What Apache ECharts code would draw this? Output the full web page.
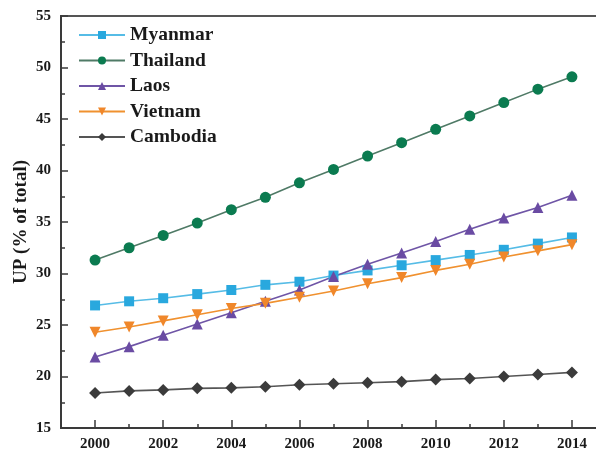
<!DOCTYPE html>
<html>
<head>
<meta charset="utf-8">
<script src="https://cdn.jsdelivr.net/npm/echarts@6/dist/echarts.min.js"></script>
<style>
  html, body { margin: 0; padding: 0; background: #fff; }
  #chart { width: 596px; height: 453px; }
</style>
</head>
<body>
<div id="chart"></div>
<script>
// Urban population share (% of total), 2000-2014
const years = [2000, 2001, 2002, 2003, 2004, 2005, 2006, 2007, 2008, 2009, 2010, 2011, 2012, 2013, 2014];
const myanmar  = [26.9, 27.3, 27.6, 28.0, 28.4, 28.9, 29.2, 29.8, 30.3, 30.8, 31.3, 31.8, 32.3, 32.9, 33.5];
const thailand = [31.3, 32.5, 33.7, 34.9, 36.2, 37.4, 38.8, 40.1, 41.4, 42.7, 44.0, 45.3, 46.6, 47.9, 49.1];
const laos     = [21.9, 22.9, 24.0, 25.1, 26.2, 27.3, 28.4, 29.7, 30.9, 32.0, 33.1, 34.3, 35.4, 36.4, 37.6];
const vietnam  = [24.3, 24.8, 25.4, 26.0, 26.6, 27.1, 27.7, 28.3, 29.0, 29.6, 30.3, 30.9, 31.6, 32.2, 32.8];
const cambodia = [18.4, 18.6, 18.7, 18.85, 18.9, 19.0, 19.2, 19.3, 19.4, 19.5, 19.7, 19.8, 20.0, 20.2, 20.4];

// x axis runs one year beyond the data on each side
const axisYears = [1999].concat(years, [2015]).map(String);

const serif = '"Liberation Serif", "Times New Roman", serif';
const axisColor = '#3a3a3a';

function pairs(vals) {
  return years.map((y, i) => [String(y), vals[i]]);
}

function lineSeries(name, vals, symbol, size, color, lineColor) {
  return {
    name: name,
    type: 'line',
    data: pairs(vals),
    symbol: symbol,
    symbolSize: size,
    itemStyle: { color: color },
    lineStyle: { color: lineColor, width: 1.6 },
    emphasis: { disabled: true },
    animation: false
  };
}

const chart = echarts.init(document.getElementById('chart'), null, { renderer: 'canvas' });

chart.setOption({
  backgroundColor: '#ffffff',
  grid: {
    left: 61, top: 16, right: -10, bottom: 25,
    outerBoundsMode: 'none',
    show: true, borderColor: '#555', borderWidth: 2, backgroundColor: 'transparent'
  },
  legend: {
    orient: 'vertical',
    left: 73, top: 20,
    itemWidth: 46, itemHeight: 10, itemGap: 5.5,
    textStyle: { fontFamily: serif, fontWeight: 'bold', fontSize: 19.5, lineHeight: 20, color: '#1a1a1a' },
    data: ['Myanmar', 'Thailand', 'Laos', 'Vietnam', 'Cambodia']
  },
  xAxis: [
    {
      type: 'category',
      data: axisYears,
      boundaryGap: false,
      axisLine: { lineStyle: { color: axisColor, width: 2 } },
      axisTick: {
        inside: true, length: 8,
        lineStyle: { color: axisColor, width: 1.5 },
        interval: (i, v) => Number(v) % 2 === 0
      },
      axisLabel: {
        interval: (i, v) => Number(v) % 2 === 0 && v !== '1999' && v !== '2015',
        margin: 9,
        fontFamily: serif, fontWeight: 'bold', fontSize: 15, color: '#1a1a1a'
      },
      splitLine: { show: false }
    },
    {
      type: 'category',
      data: axisYears,
      boundaryGap: false,
      position: 'bottom',
      axisLine: { show: false },
      axisTick: {
        inside: true, length: 4,
        lineStyle: { color: axisColor, width: 1.5 },
        interval: (i, v) => Number(v) % 2 === 1
      },
      axisLabel: { show: false },
      splitLine: { show: false }
    }
  ],
  yAxis: {
    type: 'value',
    min: 15, max: 55, interval: 5,
    name: 'UP (% of total)',
    nameLocation: 'middle',
    nameGap: 30,
    nameMoveOverlap: false,
    nameTextStyle: { fontFamily: serif, fontWeight: 'bold', fontSize: 19, color: '#1a1a1a' },
    axisLine: { show: true, lineStyle: { color: axisColor, width: 2 } },
    axisTick: { show: true, inside: true, length: 7, lineStyle: { color: axisColor, width: 1.5 } },
    minorTick: { show: true, splitNumber: 2, length: 4, lineStyle: { color: axisColor, width: 1.5 } },
    axisLabel: { margin: 10, fontFamily: serif, fontWeight: 'bold', fontSize: 15, color: '#1a1a1a' },
    splitLine: { show: false }
  },
  series: [
    lineSeries('Myanmar', myanmar, 'rect', 10, '#29a8de', '#56bce6'),
    lineSeries('Thailand', thailand, 'circle', 11, '#0b7b50', '#4f7a66'),
    lineSeries('Laos', laos, 'triangle', 11, '#6a4ba3', '#6f55a6'),
    lineSeries('Vietnam', vietnam, 'path://M0,0 L10,0 L5,9 Z', 11, '#f0872a', '#f0912f'),
    lineSeries('Cambodia', cambodia, 'diamond', 12, '#3b3b3b', '#555555')
  ]
});
</script>
</body>
</html>
